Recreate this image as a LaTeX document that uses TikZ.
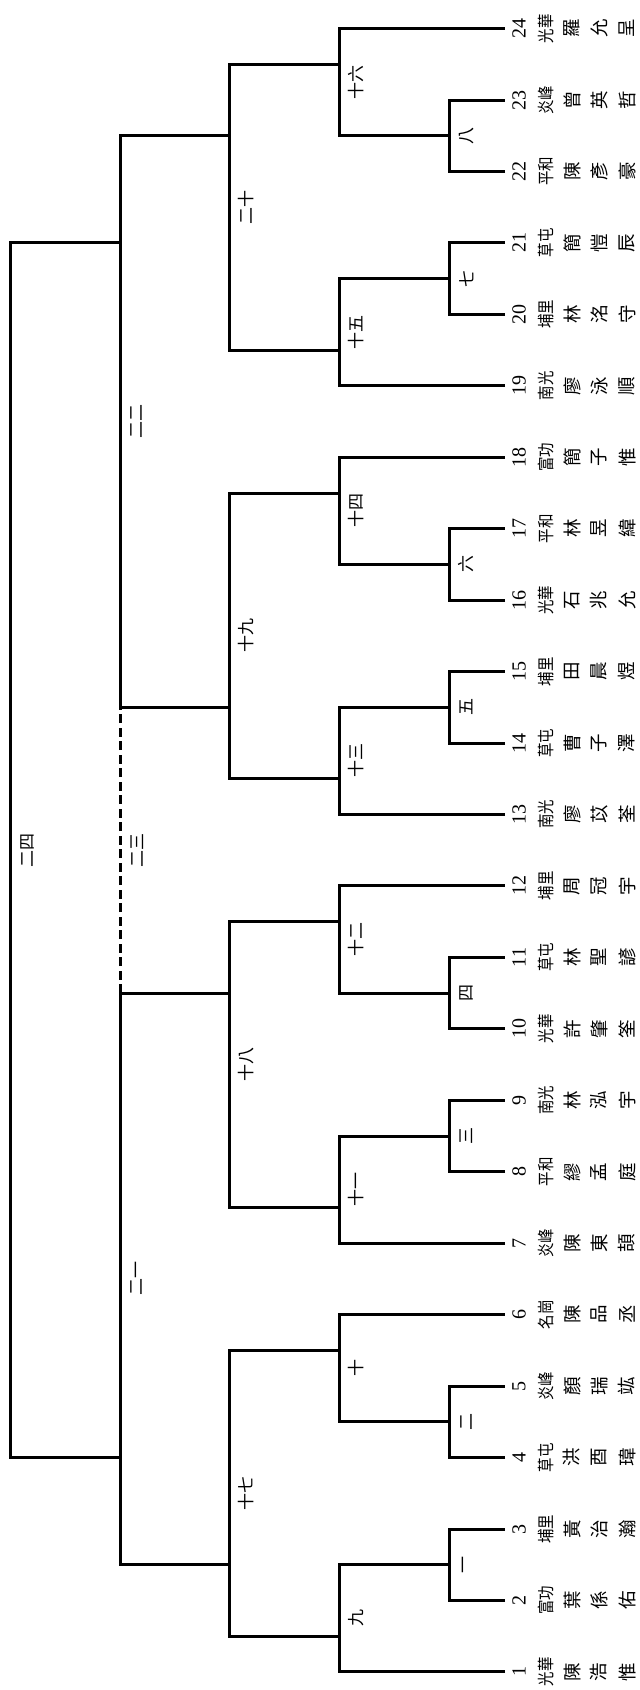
\documentclass[tikz,border=0pt]{standalone}
\usepackage{fontspec}
\newfontfamily\cjk{Noto Sans CJK TC}
\newfontfamily\numf{Liberation Serif}
\tikzset{
  br/.style={line width=3pt, line join=miter},
  dsh/.style={line width=3pt, dash pattern=on 9pt off 4.5pt},
  rlab/.style={rotate=90, inner sep=0pt, font={\cjk\fontsize{17}{17}\selectfont}},
  num/.style={rotate=90, inner sep=0pt, font={\numf\fontsize{20}{20}\selectfont}},
  sch/.style={rotate=90, inner sep=0pt, font={\cjk\fontsize{17}{17}\selectfont}},
  nm/.style={rotate=90, inner sep=0pt, font={\cjk\fontsize{18.5}{18.5}\selectfont}}
}
\begin{document}
\begin{tikzpicture}[x=1pt,y=71.45pt]
\fill[white] (0,0.7474) rectangle (640,24.4003);
\useasboundingbox (0,0.7474) rectangle (640,24.4003);
% leaf ends
\foreach \i in {1,...,24} {\coordinate (L\i) at (505,\i);}
% round 1
\coordinate (m1) at (449.3,2.5);
\coordinate (m2) at (449.3,4.5);
\coordinate (m3) at (449.3,8.5);
\coordinate (m4) at (449.3,10.5);
\coordinate (m5) at (449.3,14.5);
\coordinate (m6) at (449.3,16.5);
\coordinate (m7) at (449.3,20.5);
\coordinate (m8) at (449.3,22.5);
% round 2
\coordinate (m9) at (339.3,1.5);
\coordinate (m10) at (339.3,5.5);
\coordinate (m11) at (339.3,7.5);
\coordinate (m12) at (339.3,11.5);
\coordinate (m13) at (339.3,13.5);
\coordinate (m14) at (339.3,17.5);
\coordinate (m15) at (339.3,19.5);
\coordinate (m16) at (339.3,23.5);
% round 3
\coordinate (m17) at (229.3,2.5);
\coordinate (m18) at (229.3,10.5);
\coordinate (m19) at (229.3,14.5);
\coordinate (m20) at (229.3,22.5);
% round 4
\coordinate (m21) at (120,4);
\coordinate (m22) at (120,21);
% final
\coordinate (m24) at (10.7,12.5);

\draw[br] (L2) -| (m1) |- (L3);
\draw[br] (L4) -| (m2) |- (L5);
\draw[br] (L8) -| (m3) |- (L9);
\draw[br] (L10) -| (m4) |- (L11);
\draw[br] (L14) -| (m5) |- (L15);
\draw[br] (L16) -| (m6) |- (L17);
\draw[br] (L20) -| (m7) |- (L21);
\draw[br] (L22) -| (m8) |- (L23);

\draw[br] (L1) -| (m9) |- (m1);
\draw[br] (m2) -| (m10) |- (L6);
\draw[br] (L7) -| (m11) |- (m3);
\draw[br] (m4) -| (m12) |- (L12);
\draw[br] (L13) -| (m13) |- (m5);
\draw[br] (m6) -| (m14) |- (L18);
\draw[br] (L19) -| (m15) |- (m7);
\draw[br] (m8) -| (m16) |- (L24);

\draw[br] (m9) -| (m17) |- (m10);
\draw[br] (m11) -| (m18) |- (m12);
\draw[br] (m13) -| (m19) |- (m14);
\draw[br] (m15) -| (m20) |- (m16);

\draw[br] (m17) -| (m21) |- (m18);
\draw[br] (m19) -| (m22) |- (m20);
\draw[dsh] (m21 |- m18) -- (m21 |- m19);

\draw[br] (m21) -| (m24) |- (m22);

% round labels
\node[rlab] (t1) at (466.3,2.5) {一};
\node[rlab] (t2) at (466.3,4.5) {二};
\node[rlab] (t3) at (466.3,8.5) {三};
\node[rlab] (t4) at (466.3,10.5) {四};
\node[rlab] (t5) at (466.3,14.5) {五};
\node[rlab] (t6) at (466.3,16.5) {六};
\node[rlab] (t7) at (466.3,20.5) {七};
\node[rlab] (t8) at (466.3,22.5) {八};
\node[rlab] (t9) at (356.3,1.75) {九};
\node[rlab] (t10) at (356.3,5.25) {十};
\node[rlab] (t11) at (356.3,7.75) {十一};
\node[rlab] (t12) at (356.3,11.25) {十二};
\node[rlab] (t13) at (356.3,13.75) {十三};
\node[rlab] (t14) at (356.3,17.25) {十四};
\node[rlab] (t15) at (356.3,19.75) {十五};
\node[rlab] (t16) at (356.3,23.25) {十六};
\node[rlab] (t17) at (246.3,3.5) {十七};
\node[rlab] (t18) at (246.3,9.5) {十八};
\node[rlab] (t19) at (246.3,15.5) {十九};
\node[rlab] (t20) at (246.3,21.5) {二十};
\node[rlab] (t21) at (137,6.5) {二一};
\node[rlab] (t22) at (137,18.5) {二二};
\node[rlab] (t23) at (137,12.5) {二三};
\node[rlab] (t24) at (27.7,12.5) {二四};

% players
\foreach \i/\s/\a/\b/\c in {
  1/光華/陳/浩/惟, 2/富功/葉/係/佑, 3/埔里/黃/治/瀚, 4/草屯/洪/酉/瑋,
  5/炎峰/顏/瑞/竑, 6/名崗/陳/品/丞, 7/炎峰/陳/東/頡, 8/平和/繆/孟/庭,
  9/南光/林/泓/宇, 10/光華/許/肇/筌, 11/草屯/林/聖/諺, 12/埔里/周/冠/宇,
  13/南光/廖/苡/荃, 14/草屯/曹/子/澤, 15/埔里/田/晨/煜, 16/光華/石/兆/允,
  17/平和/林/昱/緯, 18/富功/簡/子/惟, 19/南光/廖/泳/順, 20/埔里/林/洺/守,
  21/草屯/簡/愷/辰, 22/平和/陳/彥/豪, 23/炎峰/曾/英/哲, 24/光華/羅/允/呈} {
  \node[num] (n\i) at (519,\i) {\i};
  \node[sch] (s\i) at (546,\i) {\scalebox{0.85}[1]{\s}};
  \node[nm] (a\i) at (572,\i) {\a};
  \node[nm] (b\i) at (599,\i) {\b};
  \node[nm] (c\i) at (627,\i) {\c};
}
\end{tikzpicture}
\end{document}
